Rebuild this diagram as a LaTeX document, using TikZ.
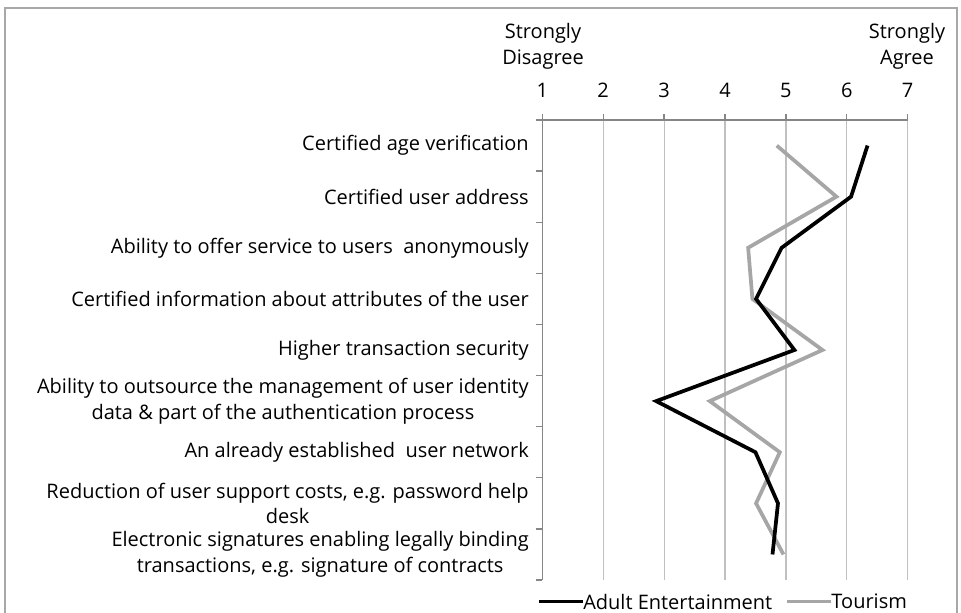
\documentclass[tikz,border=0pt]{standalone}
\usepackage{fontspec}
\setmainfont{Open Sans}
\usepackage{tikz}
\usetikzlibrary{positioning}

\definecolor{framegray}{RGB}{168,168,168}
\definecolor{axisgray}{RGB}{134,134,134}
\definecolor{gridgray}{RGB}{192,192,192}
\definecolor{tourgray}{RGB}{166,166,166}

\begin{document}
\begin{tikzpicture}[
        x=0.75pt,
        y=-0.75pt,
        font=\fontsize{15}{19.3}\selectfont,
        catlabel/.style={
            anchor=east,
            align=center,
            inner sep=0pt
        },
        legtext/.style={
            anchor=west,
            inner sep=0pt
        },
        axisline/.style={
            draw=axisgray,
            line width=1pt
        },
        gridline/.style={
            draw=gridgray,
            line width=0.9pt
        },
        adult/.style={
            black,
            line width=2.8pt
        },
        tourism/.style={
            tourgray,
            line width=2.8pt
        }
    ]

    \useasboundingbox (0,0) rectangle (961,612);
    \draw[framegray, line width=1.1pt] (5,625) -- (5,8) -- (957,8) -- (957,625);

    \node[align=center, inner sep=0pt] (disagree) at (543,46.5) {Strongly\\Disagree};
    \node[align=center, inner sep=0pt] (agree) at (907,46.5) {Strongly\\Agree};

    \begin{scope}[x=45.675pt, xshift=361.05pt, y=-38.333pt, yshift=-70.833pt]
        \foreach \v in {2,...,7}
            \draw[gridline] (\v,0.5) -- (\v,9.5);
        \foreach \v in {1,...,7} {
            \draw[axisline] (\v,0.5) -- (\v,0.383);
            \node (tick\v) at (\v,-0.087) {\v};
        }
        \foreach \i in {0,...,9}
            \draw[axisline] (1,\i+0.5) -- (0.9,\i+0.5);
        \draw[axisline] (1,0.5) -- (7,0.5);
        \draw[axisline] (1,0.5) -- (1,9.5);

        \foreach \i/\txt in {
                1/Certified age verification,
                2/Certified user address,
                3/Ability to offer service to users\ \ anonymously,
                4/Certified information about attributes of the user,
                5/Higher transaction security,
                6/{Ability to outsource the management of user identity\\data \& part of the authentication process},
                7/An already established\ \ user network,
                8/{Reduction of user support costs, e.g. password help\\desk},
                9/{Electronic signatures enabling legally binding\\transactions, e.g. signature of contracts}}
            \node[catlabel] (cat\i) at (0.782,\i) {\txt};

        \draw[tourism] plot coordinates {
            (4.85,1) (5.83,2) (4.38,3) (4.45,4) (5.60,5)
            (3.75,6) (4.90,7) (4.51,8) (4.96,9)};
        \draw[adult] plot coordinates {
            (6.34,1) (6.07,2) (4.93,3) (4.51,4) (5.14,5)
            (2.87,6) (4.50,7) (4.87,8) (4.78,9)};
    \end{scope}

    \node[legtext] (adultkey) at (583,601.5) {Adult Entertainment};
    \node[legtext, right=44pt of adultkey] (tourkey) {Tourism};
    \draw[adult] ([xshift=-33pt]adultkey.west) -- (adultkey.west);
    \draw[tourism] ([xshift=-33pt]tourkey.west) -- (tourkey.west);

\end{tikzpicture}
\end{document}
